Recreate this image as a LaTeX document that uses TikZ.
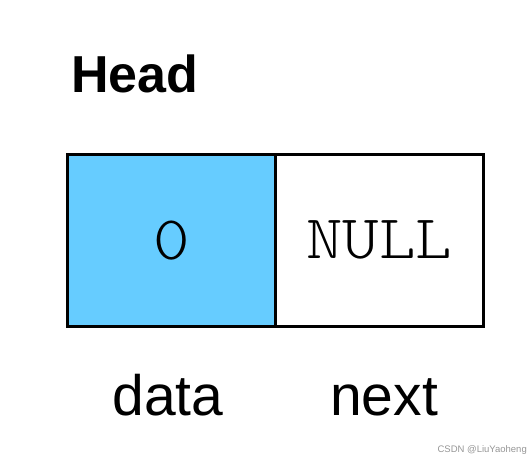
\documentclass[tikz,border=0pt]{standalone}
\usepackage{fontspec}
\setmainfont{Liberation Sans}
\newfontfamily\monofont[FakeStretch=1.12]{Latin Modern Mono Light}
\definecolor{cellblue}{RGB}{102,204,255}
\definecolor{wmgray}{RGB}{150,150,150}
\begin{document}
\begin{tikzpicture}[x=1pt,y=-1pt,
  cell/.style={draw=black,line width=2.5pt,minimum width=208pt,minimum height=172pt,inner sep=0pt,anchor=north west},
  celltext/.style={font=\monofont\fontsize{62}{66}\selectfont},
  lbl/.style={font=\fontsize{57}{60}\selectfont,anchor=base},
  title/.style={font=\bfseries\fontsize{52}{54}\selectfont,anchor=base west,inner sep=0pt}]
\useasboundingbox (0,0) rectangle (532,460);
\node[cell,fill=cellblue] (data) at (66,153) {};
\node[cell,fill=white] (next) at (274,153) {};
\node[celltext] (zero) at (data.center) {0};
\node[celltext] (null) at (next.center) {NULL};
\node[title] (head) at (71,92) {Head};
\node[lbl] (datal) at (168,415) {data};
\node[lbl] (nextl) at (384,415) {next};
\node[font=\fontsize{9.5}{12}\selectfont,text=wmgray,anchor=base east,inner sep=0pt] (wm) at (527,452) {CSDN @LiuYaoheng};
\end{tikzpicture}
\end{document}
